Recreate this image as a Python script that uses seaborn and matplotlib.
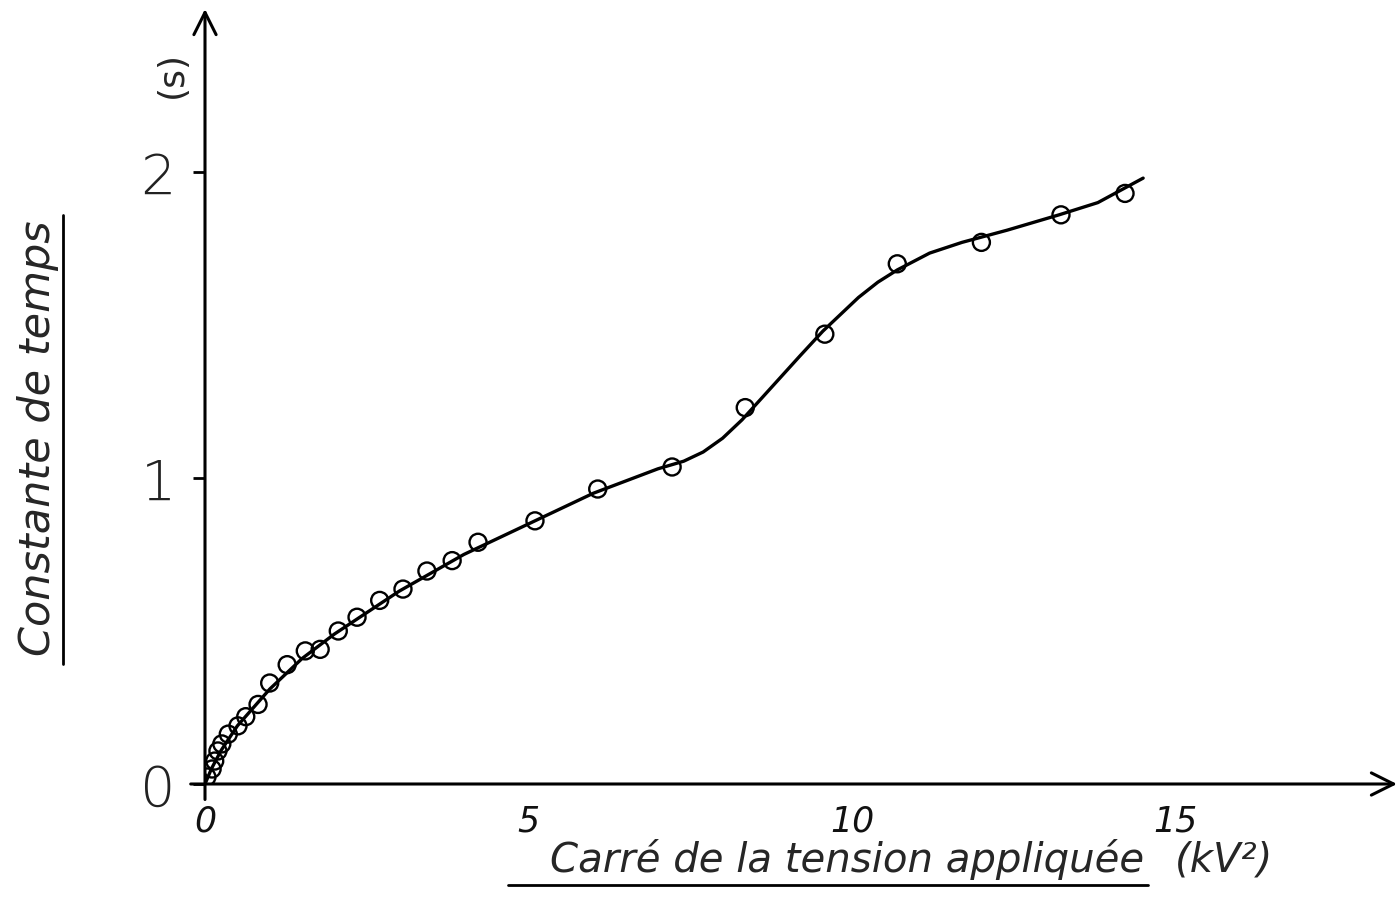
import matplotlib
matplotlib.use("Agg")
import matplotlib.pyplot as plt
import seaborn as sns
import numpy as np
import pandas as pd

# Measured points (x: square of applied voltage kV^2, y: time constant s)
pts_x = [0.03, 0.11, 0.15, 0.20, 0.26, 0.36, 0.51, 0.63, 0.82, 1.00, 1.27, 1.55, 1.78,
         2.06, 2.35, 2.70, 3.06, 3.43, 3.82, 4.22, 5.10, 6.07, 7.22, 8.35, 9.58, 10.70,
         12.00, 13.23, 14.22]
pts_y = [0.023, 0.049, 0.075, 0.108, 0.131, 0.163, 0.19, 0.22, 0.26, 0.33, 0.39, 0.435, 0.44,
         0.50, 0.545, 0.60, 0.637, 0.696, 0.73, 0.79, 0.86, 0.964, 1.036, 1.23, 1.47, 1.70,
         1.77, 1.86, 1.93]

# Hand-drawn fitted curve
curve_x = [0.0, 0.1, 0.25, 0.5, 0.75, 1.0, 1.5, 2.0, 2.5, 3.0, 3.5, 4.0, 4.5, 5.0, 5.5, 6.0,
           6.5, 7.0, 7.4, 7.7, 8.0, 8.3, 8.6, 8.9, 9.2, 9.55, 9.8, 10.1, 10.4, 10.7, 11.2,
           11.7, 12.4, 13.2, 13.8, 14.5]
curve_y = [0.0, 0.05, 0.11, 0.19, 0.25, 0.31, 0.41, 0.49, 0.56, 0.63, 0.69, 0.75, 0.80, 0.85,
           0.90, 0.95, 0.99, 1.03, 1.055, 1.085, 1.13, 1.19, 1.26, 1.33, 1.40, 1.48, 1.53, 1.59,
           1.64, 1.68, 1.735, 1.77, 1.81, 1.86, 1.90, 1.98]

yticks = [0, 1, 2]
ytick_labels = ["0", "1", "2"]
xticks = [0, 5, 10, 15]
xtick_labels = ["0", "5", "10", "15"]
xlabel = "Carré de la tension appliquée"
xunit = "(kV²)"
ylabel = "Constante de temps"
yunit = "(s)"

sns.set_style("white")
plt.rcParams['font.family'] = ['DejaVu Sans']

fig = plt.figure(figsize=(13.97, 9.12), dpi=100)
ax = fig.add_axes([205/1397, 127/912, 1192/1397, 775/912])
ax.set_xlim(0, 1192/64.7)
ax.set_ylim(0, 775/306)

df_c = pd.DataFrame({"x": curve_x, "y": curve_y})
df_p = pd.DataFrame({"x": pts_x, "y": pts_y})
sns.lineplot(data=df_c, x="x", y="y", ax=ax, color="black", linewidth=2.4, sort=False,
             estimator=None)
sns.scatterplot(data=df_p, x="x", y="y", ax=ax, s=150, facecolors="none",
                edgecolor="black", linewidth=1.7, marker="o", zorder=3)

for s in ax.spines.values():
    s.set_visible(False)

# axes with arrows
ax.annotate("", xy=(1.0, 0), xytext=(-0.012, 0), xycoords="axes fraction",
            arrowprops=dict(arrowstyle="->", lw=2.2, color="black",
                            mutation_scale=40, shrinkA=0, shrinkB=0),
            annotation_clip=False)
ax.annotate("", xy=(0, 1.0), xytext=(0, -0.02), xycoords="axes fraction",
            arrowprops=dict(arrowstyle="->", lw=2.2, color="black",
                            mutation_scale=40, shrinkA=0, shrinkB=0),
            annotation_clip=False)

ax.set_yticks(yticks)
ax.set_yticklabels(ytick_labels, fontsize=40, fontweight="light", color="#222222")
ax.tick_params(axis="y", direction="out", length=9, width=2, color="black", pad=12, left=True)
ax.set_xticks(xticks)
ax.set_xticklabels(xtick_labels, fontsize=25, fontstyle="italic", color="#111111")
ax.tick_params(axis="x", length=0, pad=14)
ax.set_xlabel("")
ax.set_ylabel("")

# axis titles (handwritten-style, underlined)
tx = fig.text(550/1397, 1 - 860/912, xlabel, fontsize=29, fontstyle="italic",
              ha="left", va="center")
tu = fig.text(1175/1397, 1 - 860/912, xunit, fontsize=29, fontstyle="italic",
              ha="left", va="center")
ty = fig.text(38/1397, 1 - 438/912, ylabel, fontsize=31, fontstyle="italic",
              rotation=90, ha="center", va="center")
ts = fig.text(172/1397, 1 - 75/912, yunit, fontsize=26, rotation=90,
              ha="center", va="center")

fig.canvas.draw()
r = fig.canvas.get_renderer()
inv = fig.transFigure.inverted()
bb = tx.get_window_extent(r).transformed(inv)
fig.add_artist(plt.Line2D([bb.x0 - 0.03, bb.x1 + 0.003], [bb.y0 - 0.006, bb.y0 - 0.006],
                          color="black", lw=2, transform=fig.transFigure))
bb = ty.get_window_extent(r).transformed(inv)
fig.add_artist(plt.Line2D([bb.x1 + 0.003, bb.x1 + 0.003], [bb.y0 - 0.01, bb.y1 + 0.005],
                          color="black", lw=2, transform=fig.transFigure))

fig.savefig("out.png", dpi=100, facecolor="white")
